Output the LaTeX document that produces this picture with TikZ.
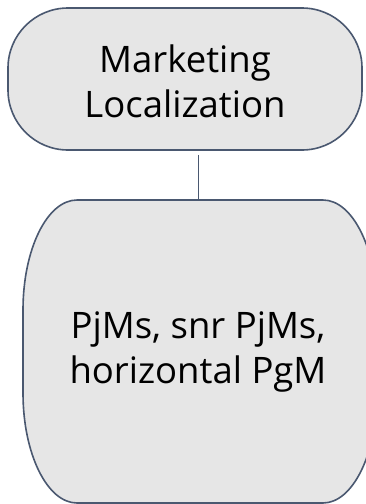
\documentclass[tikz,border=0pt]{standalone}
\usepackage{fontspec}
\setmainfont{Open Sans}
\definecolor{edgec}{HTML}{4A5870}
\definecolor{fillc}{HTML}{E6E6E6}
\tikzset{
  box/.style={draw=edgec, fill=fillc, line width=1.6pt},
  lbl/.style={align=center, font=\fontsize{36.5}{45}\selectfont, text=black},
  link/.style={draw=edgec, line width=1.6pt}
}
\begin{document}
\begin{tikzpicture}[x=1pt,y=1pt]
\useasboundingbox (0,0) rectangle (366,-504);
\begin{scope}
\clip (0,0) rectangle (366,-504);
% top node
\node[box, rounded corners=60pt, minimum width=354pt, minimum height=142pt, inner sep=0pt] (top) at (185,-79) {};
\node[lbl] (toplbl) at (185,-81) {Marketing\\Localization};
% bottom node shape
\draw[box] (77,-200) -- (323,-200)
  arc[start angle=90, end angle=0, x radius=54, y radius=110]
  -- (377,-393)
  arc[start angle=0, end angle=-90, x radius=54, y radius=110]
  -- (77,-503)
  arc[start angle=-90, end angle=-180, x radius=54, y radius=110]
  -- (23,-310)
  arc[start angle=180, end angle=90, x radius=54, y radius=110];
\coordinate (btop) at (198.5,-200);
\node[lbl] (bot) at (198,-352) {PjMs, snr PjMs,\\horizontal PgM};
\end{scope}
\draw[link] ([yshift=-4pt]top.south -| btop) -- (btop);
\end{tikzpicture}
\end{document}
